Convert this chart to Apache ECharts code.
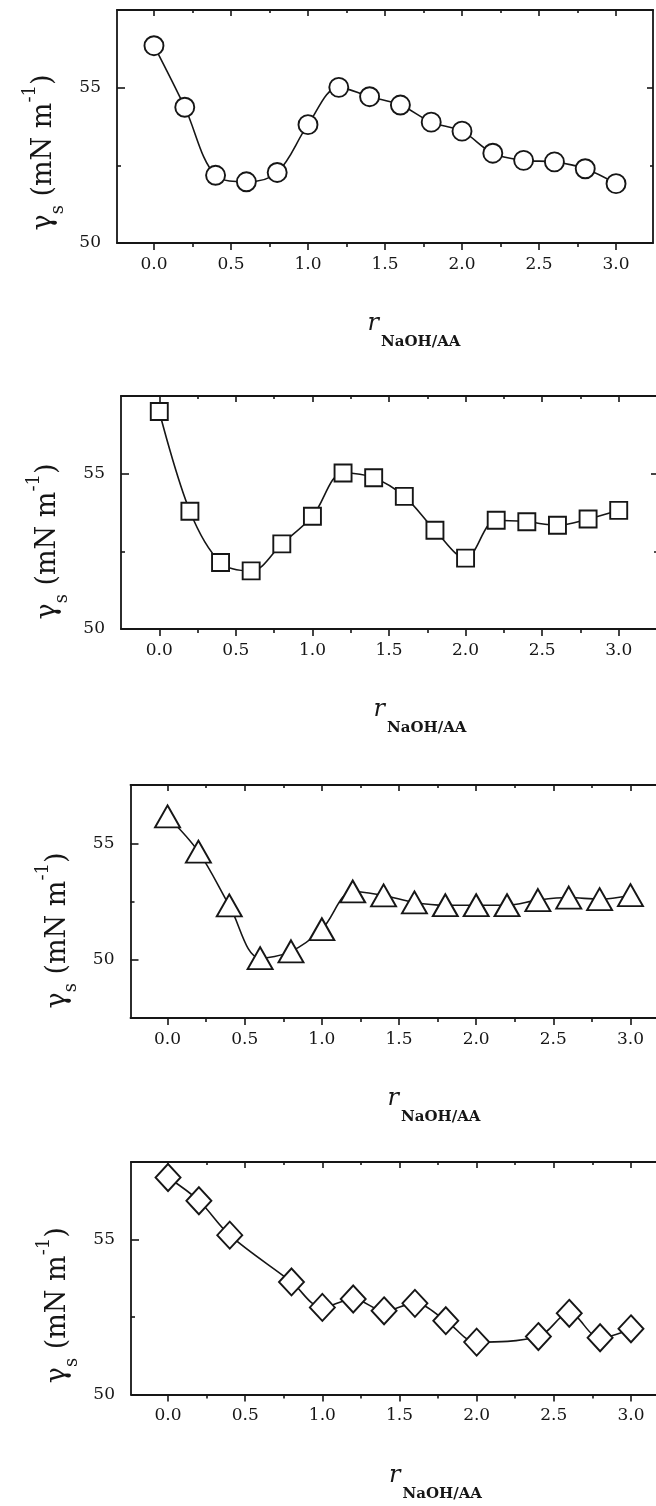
<!DOCTYPE html>
<html>
<head>
<meta charset="utf-8">
<script src="https://cdn.jsdelivr.net/npm/echarts@6/dist/echarts.min.js"></script>
<style>
html,body{margin:0;padding:0;background:#fff;}
#chart{width:656px;height:1506px;}
</style>
</head>
<body>
<div id="chart"></div>
<script>
// ---------- data ----------
const xRatio = [0, 0.2, 0.4, 0.6, 0.8, 1.0, 1.2, 1.4, 1.6, 1.8, 2.0, 2.2, 2.4, 2.6, 2.8, 3.0];
const circleY = [56.35, 54.37, 52.18, 51.97, 52.27, 53.81, 55.01, 54.71, 54.44, 53.89, 53.60, 52.89, 52.66, 52.61, 52.39, 51.91];
const squareY = [57.00, 53.79, 52.14, 51.87, 52.74, 53.63, 55.02, 54.87, 54.27, 53.18, 52.28, 53.50, 53.45, 53.34, 53.54, 53.82];
const triangleY = [56.15, 54.64, 52.33, 50.07, 50.36, 51.31, 52.93, 52.76, 52.46, 52.34, 52.34, 52.34, 52.56, 52.67, 52.60, 52.77];
const diamondX = [0, 0.2, 0.4, 0.8, 1.0, 1.2, 1.4, 1.6, 1.8, 2.0, 2.4, 2.6, 2.8, 3.0];
const diamondY = [57.00, 56.25, 55.14, 53.63, 52.81, 53.08, 52.70, 52.94, 52.38, 51.69, 51.87, 52.62, 51.83, 52.12];

const xMajorTicks = [0, 0.5, 1.0, 1.5, 2.0, 2.5, 3.0];
const xMinorTicks = [0.25, 0.75, 1.25, 1.75, 2.25, 2.75];
const yMajorTicks = [50, 55];
const yMinorTicks = [52.5];

const yTitle = '{g|γ}{sub|s}{t| (mN m}{sup|-1}{t|)}';
const xTitle = '{h| }{r|r}{s|NaOH/AA}';

// ---------- layout ----------
const panels = [
  {x: xRatio, y: circleY, symbol: 'circle', size: 19, left: 117, top: 10, width: 536, height: 233, xmin: -0.24, xmax: 3.24, ymin: 50, ymax: 57.5, yShift: 52, xPad: 58},
  {x: xRatio, y: squareY, symbol: 'rect', size: 17, left: 121, top: 396, width: 536, height: 233, xmin: -0.25, xmax: 3.25, ymin: 50, ymax: 57.5, yShift: 58, xPad: 62},
  {x: xRatio, y: triangleY, symbol: 'triangle', size: [25, 22], left: 130.5, top: 785, width: 537, height: 233, xmin: -0.24, xmax: 3.24, ymin: 47.5, ymax: 57.5, yShift: 58, xPad: 70},
  {x: diamondX, y: diamondY, symbol: 'diamond', size: [25, 27], left: 131, top: 1162, width: 537, height: 232.5, xmin: -0.24, xmax: 3.24, ymin: 50, ymax: 57.5, yShift: 54, xPad: 72}
];

const INK = '#161616';
const FONT = 'DejaVu Serif';
const axisLineStyle = {show: true, onZero: false, lineStyle: {color: INK, width: 1.8}};
const noLine = {show: false, onZero: false};

const grid = [], xAxis = [], yAxis = [], series = [];

panels.forEach((p, i) => {
  grid.push({left: p.left, top: p.top, width: p.width, height: p.height, containLabel: false, outerBoundsMode: 'none'});
  const xb = {gridIndex: i, type: 'value', min: p.xmin, max: p.xmax, splitLine: {show: false}};
  // bottom major
  xAxis.push(Object.assign({}, xb, {
    position: 'bottom',
    axisLine: axisLineStyle,
    axisTick: {show: true, inside: false, length: 7, customValues: xMajorTicks, lineStyle: {color: INK, width: 1.6}},
    axisLabel: {show: true, customValues: xMajorTicks, margin: 13, fontFamily: FONT, fontSize: 17, color: INK,
      formatter: v => Number(v).toFixed(1)},
    name: xTitle, nameLocation: 'middle', nameGap: 69,
    nameTextStyle: {padding: [0, 0, 0, p.xPad], rich: {
      h: {fontSize: 1, lineHeight: 38, width: 0, verticalAlign: 'top', color: 'rgba(0,0,0,0)'},
      r: {fontFamily: FONT, fontStyle: 'italic', fontSize: 24, lineHeight: 24, verticalAlign: 'top', color: INK},
      s: {fontFamily: FONT, fontWeight: 'bold', fontSize: 15, lineHeight: 14, verticalAlign: 'bottom', color: INK, padding: [0, 0, 0, 2]}
    }}
  }));
  // bottom minor
  xAxis.push(Object.assign({}, xb, {
    position: 'bottom', axisLine: noLine,
    axisTick: {show: true, inside: false, length: 4, customValues: xMinorTicks, lineStyle: {color: INK, width: 1.6}},
    axisLabel: {show: false}
  }));
  // top major
  xAxis.push(Object.assign({}, xb, {
    position: 'top', axisLine: axisLineStyle,
    axisTick: {show: true, inside: true, length: 6, customValues: xMajorTicks, lineStyle: {color: INK, width: 1.6}},
    axisLabel: {show: false}
  }));
  // top minor
  xAxis.push(Object.assign({}, xb, {
    position: 'top', axisLine: noLine,
    axisTick: {show: true, inside: true, length: 3, customValues: xMinorTicks, lineStyle: {color: INK, width: 1.6}},
    axisLabel: {show: false}
  }));

  const yb = {gridIndex: i, type: 'value', min: p.ymin, max: p.ymax, splitLine: {show: false}};
  // left major
  yAxis.push(Object.assign({}, yb, {
    position: 'left', axisLine: axisLineStyle,
    axisTick: {show: true, inside: true, length: 8, customValues: yMajorTicks, lineStyle: {color: INK, width: 1.6}},
    axisLabel: {show: true, customValues: yMajorTicks, margin: 16, fontFamily: FONT, fontSize: 17, color: INK, padding: [0, 0, 6, 0]},
    name: yTitle, nameLocation: 'middle', nameRotate: 90, nameGap: 50,
    nameTextStyle: {padding: [0, p.yShift, 0, 0], rich: {
      g: {fontFamily: FONT, fontSize: 27, lineHeight: 46, verticalAlign: 'middle', color: INK},
      t: {fontFamily: FONT, fontSize: 27, lineHeight: 46, verticalAlign: 'middle', color: INK},
      sub: {fontFamily: FONT, fontSize: 18, lineHeight: 18, verticalAlign: 'bottom', color: INK},
      sup: {fontFamily: FONT, fontSize: 18, lineHeight: 18, verticalAlign: 'top', color: INK}
    }}
  }));
  // left minor
  yAxis.push(Object.assign({}, yb, {
    position: 'left', axisLine: noLine,
    axisTick: {show: true, inside: true, length: 4, customValues: yMinorTicks, lineStyle: {color: INK, width: 1.6}},
    axisLabel: {show: false}
  }));
  // right major
  yAxis.push(Object.assign({}, yb, {
    position: 'right', axisLine: axisLineStyle,
    axisTick: {show: true, inside: true, length: 6, customValues: yMajorTicks, lineStyle: {color: INK, width: 1.6}},
    axisLabel: {show: false}
  }));
  // right minor
  yAxis.push(Object.assign({}, yb, {
    position: 'right', axisLine: noLine,
    axisTick: {show: true, inside: true, length: 3, customValues: yMinorTicks, lineStyle: {color: INK, width: 1.6}},
    axisLabel: {show: false}
  }));

  series.push({
    type: 'line',
    xAxisIndex: i * 4, yAxisIndex: i * 4,
    data: p.x.map((xv, k) => [xv, p.y[k]]),
    smooth: 0.35,
    symbol: p.symbol, symbolSize: p.size,
    showAllSymbol: true,
    lineStyle: {color: INK, width: 1.6},
    itemStyle: {color: '#ffffff', borderColor: INK, borderWidth: 1.9},
    emphasis: {disabled: true},
    animation: false,
    z: 3
  });
});

const chart = echarts.init(document.getElementById('chart'), null, {renderer: 'canvas'});
chart.setOption({
  backgroundColor: '#ffffff',
  animation: false,
  grid, xAxis, yAxis, series
});
</script>
</body>
</html>
